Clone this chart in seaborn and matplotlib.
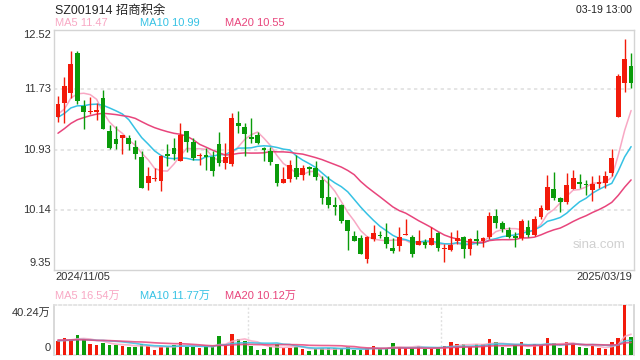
import numpy as np
import pandas as pd
import matplotlib
matplotlib.use("Agg")
import matplotlib.pyplot as plt
import seaborn as sns

# ---------------- data ----------------
title = "SZ001914 招商积余"
timestamp = "03-19 13:00"
date_labels = ["2024/11/05", "2025/03/19"]
price_ticks = [12.52, 11.73, 10.93, 10.14, 9.35]
vol_ticks = ["40.24万", "0"]
price_legend = ["MA5 11.47", "MA10 10.99", "MA20 10.55"]
vol_legend = ["MA5 16.54万", "MA10 11.77万", "MA20 10.12万"]

opens = [11.36, 11.55, 11.68, 12.21, 11.51, 11.43, 11.43, 11.62, 11.18, 11.07,
         11.09, 11.09, 10.97, 10.84, 10.49, 10.54, 10.52, 10.88, 10.95, 10.78,
         11.18, 11.04, 10.85, 10.86, 10.84, 11.01, 10.76, 10.74, 11.29, 11.23,
         11.10, 11.12, 10.95, 10.91, 10.74, 10.49, 10.55, 10.69, 10.60, 10.71,
         10.69, 10.53, 10.31, 10.20, 10.20, 10.00, 9.79, 9.76, 9.49, 9.75,
         9.81, 9.78, 9.63, 9.66, 9.81, 9.78, 9.67, 9.71, 9.68, 9.83,
         9.62, 9.61, 9.72, 9.78, 9.62, 9.75, 9.72, 9.78, 10.06, 9.96,
         9.87, 9.79, 9.77, 9.91, 9.80, 10.05, 10.14, 10.41, 10.29, 10.24,
         10.41, 10.51, 10.48, 10.40, 10.48, 10.49, 10.63, 11.37, 11.81, 12.04]
highs = [11.64, 11.89, 12.23, 12.23, 11.59, 11.63, 11.55, 11.72, 11.26, 11.24,
         11.13, 11.12, 11.06, 10.91, 10.71, 10.69, 10.86, 11.01, 11.09, 11.28,
         11.18, 11.09, 10.89, 10.96, 10.91, 11.17, 11.02, 11.42, 11.45, 11.29,
         11.35, 11.16, 10.97, 10.97, 10.74, 10.70, 10.79, 10.86, 10.73, 10.72,
         10.78, 10.58, 10.58, 10.31, 10.22, 10.01, 9.86, 9.81, 9.79, 9.94,
         9.86, 9.96, 9.77, 9.91, 10.02, 9.80, 9.87, 9.75, 9.91, 9.85,
         9.69, 9.85, 9.87, 9.79, 9.77, 9.87, 9.78, 10.11, 10.15, 9.99,
         9.91, 9.85, 10.02, 10.00, 10.06, 10.20, 10.60, 10.64, 10.31, 10.62,
         10.67, 10.61, 10.53, 10.58, 10.60, 10.65, 10.94, 11.93, 12.39, 12.21]
lows = [11.30, 11.28, 11.62, 11.54, 11.21, 11.40, 11.33, 11.20, 10.94, 10.94,
        10.88, 10.93, 10.81, 10.42, 10.40, 10.52, 10.39, 10.72, 10.80, 10.78,
        10.90, 10.79, 10.73, 10.67, 10.58, 10.72, 10.68, 10.72, 11.15, 10.85,
        11.02, 11.01, 10.78, 10.73, 10.45, 10.49, 10.51, 10.55, 10.53, 10.60,
        10.53, 10.21, 10.16, 10.07, 9.96, 9.61, 9.72, 9.56, 9.44, 9.73,
        9.76, 9.63, 9.57, 9.59, 9.80, 9.52, 9.67, 9.63, 9.67, 9.59,
        9.45, 9.59, 9.69, 9.50, 9.54, 9.67, 9.65, 9.75, 9.90, 9.85,
        9.77, 9.65, 9.74, 9.78, 9.79, 10.02, 10.14, 10.27, 10.11, 10.22,
        10.41, 10.42, 10.33, 10.26, 10.42, 10.43, 10.58, 11.37, 11.70, 11.75]
closes = [11.54, 11.77, 12.07, 11.58, 11.43, 11.45, 11.46, 11.20, 10.95, 11.01,
          11.12, 11.01, 10.87, 10.42, 10.58, 10.55, 10.85, 10.85, 10.88, 11.13,
          11.04, 10.82, 10.86, 10.83, 10.65, 10.76, 10.84, 11.35, 11.25, 11.14,
          11.07, 11.02, 10.93, 10.77, 10.49, 10.54, 10.73, 10.57, 10.69, 10.68,
          10.57, 10.29, 10.20, 10.18, 9.99, 9.86, 9.73, 9.56, 9.78, 9.83,
          9.79, 9.69, 9.60, 9.78, 9.82, 9.56, 9.72, 9.68, 9.77, 9.64,
          9.64, 9.67, 9.76, 9.62, 9.75, 9.72, 9.76, 10.06, 9.96, 9.89,
          9.78, 9.76, 9.99, 9.80, 10.02, 10.16, 10.44, 10.29, 10.24, 10.46,
          10.56, 10.48, 10.46, 10.48, 10.50, 10.59, 10.82, 11.90, 12.13, 11.81]
volumes = [10.9, 13.1, 12.6, 15.9, 12.6, 8.8, 7.7, 9.6, 7.9, 7.9,
           7.1, 6.3, 6.3, 8.2, 6.8, 3.8, 6.3, 6.3, 7.7, 10.1,
           6.3, 6.3, 5.2, 6.8, 6.8, 15.1, 7.7, 17.0, 12.6, 10.9,
           7.1, 3.6, 4.4, 6.3, 8.8, 5.5, 5.5, 6.3, 4.4, 2.7,
           4.4, 4.9, 4.9, 4.9, 4.9, 6.3, 3.6, 3.6, 4.9, 6.8,
           4.4, 4.4, 9.3, 6.3, 5.5, 5.5, 6.8, 4.4, 4.4, 5.5,
           6.8, 10.1, 8.5, 8.5, 6.3, 8.2, 8.8, 12.6, 10.1, 6.0,
           5.2, 7.4, 10.1, 4.4, 8.2, 7.4, 13.4, 9.3, 5.2, 10.1,
           9.3, 6.0, 5.2, 7.1, 5.2, 4.4, 10.1, 13.4, 40.24, 14.2]
# estimated history before the first visible day (feeds the moving averages)
prior_closes = [10.55, 10.70, 10.62, 10.85, 10.95, 11.05, 10.98, 11.10, 11.20, 11.40,
                11.25, 11.35, 11.30, 11.42, 11.28, 11.42, 11.35, 11.30, 11.39]
prior_volumes = [14, 12, 11, 13, 15, 12, 10, 11, 13, 12, 11, 12, 10, 13, 11, 12, 10, 12, 11]

# ---------------- styling ----------------
RED = "#F21A0A"
GREEN = "#0A9B0A"
MA_COLORS = ["#F8A8C4", "#36C2E4", "#E8457C"]
FRAME = "#D4D4D4"
GRID = "#E0E0E0"

sns.set_theme(style="white")
plt.rcParams["font.family"] = ["Liberation Sans", "Noto Sans CJK SC", "DejaVu Sans"]

n = len(closes)
idx = np.arange(n)
df = pd.DataFrame({"i": idx, "open": opens, "high": highs, "low": lows,
                   "close": closes, "vol": volumes})
df["up"] = df["close"] >= df["open"]

allc = pd.Series(prior_closes + closes)
allv = pd.Series(prior_volumes + volumes)
np_ = len(prior_closes)
ma_rows = []
vma_rows = []
for w, name in zip([5, 10, 20], ["MA5", "MA10", "MA20"]):
    m = allc.rolling(w).mean().to_numpy()[np_:]
    vm = allv.rolling(w).mean().to_numpy()[np_:]
    ma_rows.append(pd.DataFrame({"i": idx, "v": m, "ma": name}))
    vma_rows.append(pd.DataFrame({"i": idx, "v": vm, "ma": name}))
ma_df = pd.concat(ma_rows)
vma_df = pd.concat(vma_rows)
palette = dict(zip(["MA5", "MA10", "MA20"], MA_COLORS))

fig = plt.figure(figsize=(6.4, 3.6), dpi=100)
W, H = 640.0, 360.0
L, R = 54.0, 634.0
ax = fig.add_axes([L / W, 1 - 269.5 / H, (R - L) / W, 240 / H])
axv = fig.add_axes([L / W, 1 - 354.5 / H, (R - L) / W, 49.5 / H])

xlim = (-0.62, 89.45)

# ---- price panel ----
for y in price_ticks[1:-1]:
    ax.axhline(y, color=GRID, lw=1.2, ls=(0, (2, 2)), zorder=0)
sns.lineplot(data=ma_df, x="i", y="v", hue="ma", palette=palette, ax=ax,
             lw=1.1, legend=False, zorder=2)
colors = np.where(df["up"], RED, GREEN)
ax.vlines(df["i"], df["low"], df["high"], colors=colors, lw=1.0, zorder=3)
body_lo = np.minimum(df["open"], df["close"])
body_h = np.maximum(np.abs(df["close"] - df["open"]), 0.012)
ax.bar(df["i"], body_h, bottom=body_lo, width=0.74, color=colors, lw=0, zorder=4)
ax.set_xlim(*xlim)
ax.set_ylim(price_ticks[-1], price_ticks[0])
ax.set_xticks([])
ax.set_yticks([])
ax.set_xlabel("")
ax.set_ylabel("")
for s in ax.spines.values():
    s.set_color(FRAME)
    s.set_linewidth(1.0)
ax.text(0.985, 0.1, "sina.com", transform=ax.transAxes, ha="right", va="center",
        fontsize=9.5, color="#D0D0D0")

# ---- volume panel ----
axv.bar(df["i"], df["vol"], width=0.55, color=colors, lw=0, zorder=3)
sns.lineplot(data=vma_df, x="i", y="v", hue="ma", palette=palette, ax=axv,
             lw=1.2, legend=False, zorder=4, alpha=0.85)
for xv in [29.5, 59.5]:
    axv.axvline(xv, color=GRID, lw=1.0, ls=(0, (1.5, 1.5)), zorder=0)
axv.set_xlim(*xlim)
axv.set_ylim(0, max(volumes))
axv.set_xticks([])
axv.set_yticks([])
axv.set_xlabel("")
axv.set_ylabel("")
for k in ["top", "bottom"]:
    axv.spines[k].set_color(GRID)
    axv.spines[k].set_linestyle((0, (1.5, 1.5)))
    axv.spines[k].set_linewidth(1.2)
for k in ["left", "right"]:
    axv.spines[k].set_color(FRAME)

# ---- texts ----
fs = 8.0
fig.text(55 / W, 1 - 11 / H, title, fontsize=8.9, color="#222222", va="center", ha="left")
fig.text(632 / W, 1 - 10 / H, timestamp, fontsize=7.6, color="#222222", va="center", ha="right")
for txt, c, x in zip(price_legend, MA_COLORS, [55, 140, 225]):
    fig.text(x / W, 1 - 23 / H, txt, fontsize=fs, color=c, va="center", ha="left")
for txt, c, x in zip(vol_legend, MA_COLORS, [55, 140, 225]):
    fig.text(x / W, 1 - 296 / H, txt, fontsize=fs, color=c, va="center", ha="left")
tick_y = [35, 89.5, 149.5, 209.5, 263]
for v, y in zip(price_ticks, tick_y):
    fig.text(51 / W, 1 - y / H, f"{v:.2f}", fontsize=fs, color="#333333", va="center", ha="right")
fig.text(55 / W, 1 - 277 / H, date_labels[0], fontsize=fs, color="#333333", va="center", ha="left")
fig.text(632 / W, 1 - 277 / H, date_labels[1], fontsize=fs, color="#333333", va="center", ha="right")
for txt, y in zip(vol_ticks, [313, 348]):
    fig.text(51 / W, 1 - y / H, txt, fontsize=fs, color="#333333", va="center", ha="right")

fig.savefig("out.png", dpi=100, facecolor="white")
